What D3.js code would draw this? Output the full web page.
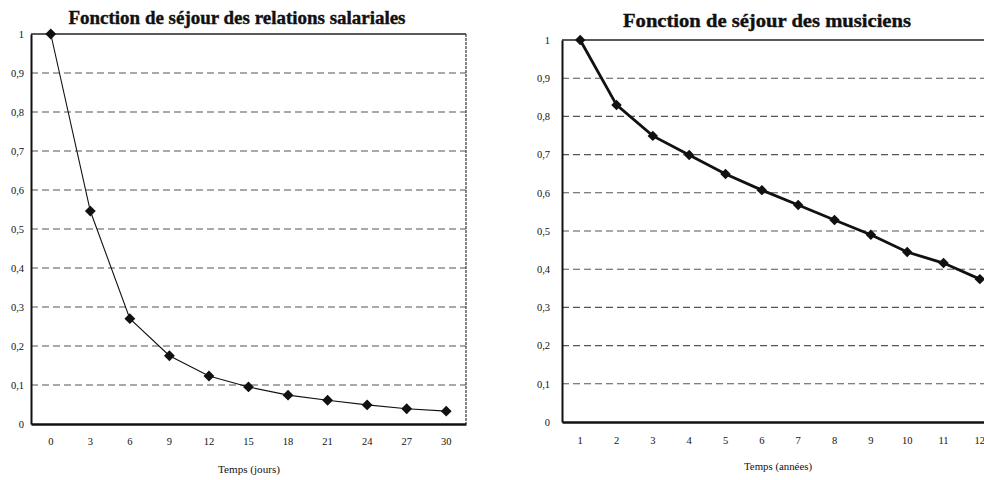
<!DOCTYPE html>
<html><head><meta charset="utf-8">
<script src="https://cdn.jsdelivr.net/npm/d3@7"></script>
<style>
html,body{margin:0;padding:0;background:#fff;overflow:hidden}
svg{display:block}
svg text{font-family:"Liberation Serif","Times New Roman","DejaVu Serif",serif !important;fill:#111}
</style></head>
<body>
<script>
// Data
const daysCategories = [0,3,6,9,12,15,18,21,24,27,30];
const salariesValues = [1,0.546,0.27,0.175,0.123,0.095,0.074,0.061,0.049,0.039,0.033];
const yearsCategories = [1,2,3,4,5,6,7,8,9,10,11,12];
const musiciensValues = [1,0.83,0.749,0.699,0.649,0.607,0.568,0.529,0.49,0.445,0.416,0.374];
const yTicks = [0,0.1,0.2,0.3,0.4,0.5,0.6,0.7,0.8,0.9,1];
const yTickLabels = ["0","0,1","0,2","0,3","0,4","0,5","0,6","0,7","0,8","0,9","1"];

const W = 984, H = 480;
const svg = d3.select("body").append("svg").attr("width",W).attr("height",H);
const SERIF = '"Liberation Serif","Times New Roman","DejaVu Serif",serif';

function drawChart(cfg){
  const g = svg.append("g");
  const x = d3.scaleBand().domain(cfg.cats).range([cfg.x0,cfg.x1]).paddingInner(0).paddingOuter(0);
  const y = d3.scaleLinear().domain([0,1]).range([cfg.y0,cfg.y1]);

  g.selectAll("line.grid").data(yTicks.filter(v=>v>0 && v<1)).join("line")
    .attr("x1",cfg.x0).attr("x2",cfg.x1)
    .attr("y1",d=>y(d)).attr("y2",d=>y(d))
    .attr("stroke","#555").attr("stroke-width",1.1).attr("stroke-dasharray","7,4");
  g.append("line").attr("x1",cfg.x0).attr("x2",cfg.x1).attr("y1",y(1)).attr("y2",y(1))
    .attr("stroke","#222").attr("stroke-width",1.6);
  if(cfg.rightBorder){
    g.append("line").attr("x1",cfg.x1).attr("x2",cfg.x1).attr("y1",y(1)).attr("y2",y(0))
      .attr("stroke","#444").attr("stroke-width",1.3).attr("stroke-dasharray","3,1");
  }
  const ya = d3.axisLeft(y).tickValues(yTicks).tickSize(0).tickPadding(cfg.yPad)
    .tickFormat((d,i)=>yTickLabels[i]);
  const yg = g.append("g").attr("transform",`translate(${cfg.x0},0)`).call(ya)
    .attr("font-family",SERIF).attr("font-size",10.5);
  yg.select(".domain").attr("stroke","#111").attr("stroke-width",2);
  yg.selectAll("text").attr("fill","#111");
  const xa = d3.axisBottom(x).tickSize(0).tickPadding(cfg.xPad);
  const xg = g.append("g").attr("transform",`translate(0,${cfg.y0})`).call(xa)
    .attr("font-family",SERIF).attr("font-size",10.5);
  xg.select(".domain").attr("stroke","#111").attr("stroke-width",2.5);
  xg.selectAll("text").attr("fill","#111");

  const line = d3.line().x((d,i)=>x(cfg.cats[i])+x.bandwidth()/2).y(d=>y(d));
  g.append("path").datum(cfg.vals).attr("d",line).attr("fill","none")
    .attr("stroke","#111").attr("stroke-width",cfg.lw);
  g.selectAll("path.mk").data(cfg.vals).join("path")
    .attr("d",d3.symbol().type(d3.symbolDiamond2).size(cfg.ms))
    .attr("transform",(d,i)=>`translate(${x(cfg.cats[i])+x.bandwidth()/2},${y(d)})`)
    .attr("fill","#111");

  g.append("text").attr("x",cfg.tx).attr("y",cfg.ty).attr("text-anchor","middle")
    .attr("font-family",SERIF).attr("font-size",19).attr("font-weight","bold")
    .attr("stroke","#111").attr("stroke-width",0.4)
    .attr("textLength",cfg.tl).attr("lengthAdjust","spacingAndGlyphs").text(cfg.title);
  g.append("text").attr("x",cfg.xtx).attr("y",cfg.xty).attr("text-anchor","middle")
    .attr("font-family",SERIF).attr("font-size",10)
    .attr("textLength",cfg.xtl).attr("lengthAdjust","spacingAndGlyphs").text(cfg.xtitle);
}

drawChart({cats:daysCategories, vals:salariesValues, x0:31, x1:466, y0:424, y1:34,
  title:"Fonction de séjour des relations salariales", tx:237, ty:24, tl:337,
  xtitle:"Temps (jours)", xtx:249, xty:473, xtl:62, lw:1.1, ms:75, rightBorder:true, yPad:7, xPad:14});
drawChart({cats:yearsCategories, vals:musiciensValues, x0:562, x1:998, y0:422, y1:40,
  title:"Fonction de séjour des musiciens", tx:767, ty:27, tl:288,
  xtitle:"Temps (années)", xtx:778, xty:470, xtl:68, lw:2.8, ms:70, rightBorder:false, yPad:12, xPad:15});
</script>
</body></html>
